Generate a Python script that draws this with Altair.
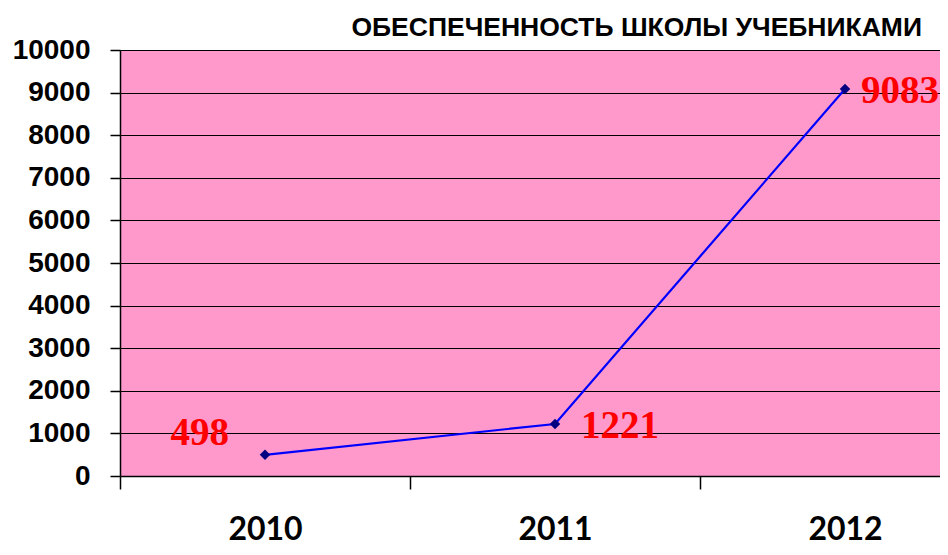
import altair as alt
import pandas as pd

# ---- data ----
years = [2010, 2011, 2012]
values = [498, 1221, 9083]
labels = ["498", "1221", "9083"]
y_ticks = list(range(0, 10001, 1000))
title_text = "ОБЕСПЕЧЕННОСТЬ ШКОЛЫ УЧЕБНИКАМИ"

df = pd.DataFrame({"year": years, "value": values, "label": labels})

PLOT_W = 820
PLOT_H = 426
BAND = 290  # px per year category

x_domain = [years[0] - 0.5, years[0] - 0.5 + PLOT_W / BAND]
x_scale = alt.Scale(domain=x_domain, nice=False, zero=False)
y_scale = alt.Scale(domain=[0, 10000], nice=False, zero=True)

y_axis = alt.Axis(
    values=y_ticks, title=None, grid=True, gridColor="#000000", gridWidth=1,
    gridOpacity=1, domain=True, domainColor="#000000", domainWidth=1.5,
    ticks=True, tickSize=10, tickColor="#000000", tickWidth=1.5,
    labelFont="Liberation Sans", labelFontWeight="bold", labelFontSize=28,
    labelColor="#000000", labelPadding=20, format="d", labelFlush=False,
    labelOverlap=False,
)
y_enc = alt.Y("value:Q", scale=y_scale, axis=y_axis)

year_axis = alt.Axis(
    values=years, format="d", ticks=False, grid=False, domain=True,
    domainColor="#000000", domainWidth=1.5, labelFont="Lato",
    labelFontWeight="bold", labelFontSize=32, labelColor="#000000",
    labelPadding=38, orient="bottom", title=None, labelFlush=False,
    labelOverlap=False, labelBaseline="top",
)
tick_axis = alt.Axis(
    values=[y - 0.5 for y in years], labels=False, ticks=True, tickSize=13,
    tickColor="#000000", tickWidth=1.5, domain=False, grid=False,
    orient="bottom", title=None,
)

base = alt.Chart(df)

line = base.mark_line(color="#0000FF", strokeWidth=2.2).encode(
    x=alt.X("year:Q", scale=x_scale, axis=year_axis),
    y=y_enc,
)

points = base.mark_point(
    shape="diamond", filled=True, color="#000080", size=110, opacity=1
).encode(
    x=alt.X("year:Q", scale=x_scale, axis=tick_axis),
    y=y_enc,
)

text_style = dict(font="Liberation Serif", fontWeight="bold", fontSize=39,
                  color="#FF0000", baseline="middle")

# per-label placement (left of the first point, right of the others)
label_offsets = {years[0]: ("right", -36, -22), years[1]: ("left", 26, 2),
                 years[2]: ("left", 16, 2)}

label_layers = []
for yr, (al, ddx, ddy) in label_offsets.items():
    label_layers.append(
        base.transform_filter(alt.datum.year == yr).mark_text(
            align=al, dx=ddx, dy=ddy, **text_style
        ).encode(
            x=alt.X("year:Q", scale=x_scale, axis=None),
            y=y_enc,
            text="label:N",
        )
    )

chart = (
    alt.layer(line, points, *label_layers)
    .resolve_axis(x="independent")
    .properties(
        width=PLOT_W,
        height=PLOT_H,
        autosize=alt.AutoSizeParams(type="none"),
        padding={"left": 112, "top": 42, "right": 0, "bottom": 71},
        title=alt.TitleParams(
            title_text, anchor="end", frame="group", font="Liberation Sans",
            fontSize=26.5, fontWeight="bold", color="#000000", offset=-5,
            dx=-18,
        ),
    )
    .configure_view(fill="#FF99CC", stroke=None)
)

chart.save("out.html", embed_options={"renderer": "svg", "actions": False})
